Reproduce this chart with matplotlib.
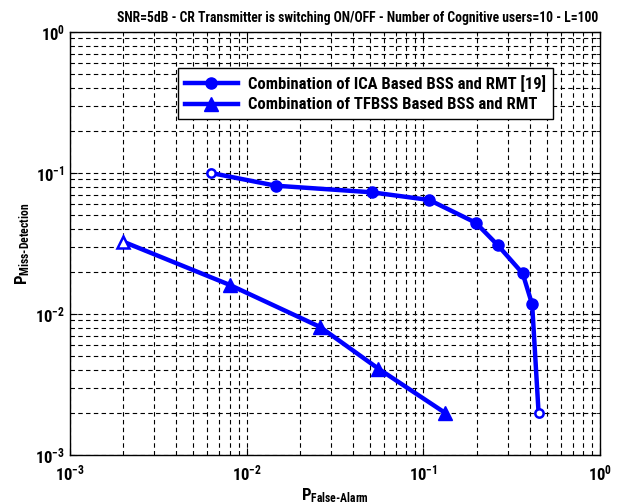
import math
import matplotlib
matplotlib.use("Agg")
import matplotlib.pyplot as plt
from matplotlib import font_manager
from matplotlib.ticker import LogLocator, FuncFormatter, NullFormatter

# pick a condensed sans if one is available
available = {f.name for f in font_manager.fontManager.ttflist}
narrow = next((n for n in ['Liberation Sans Narrow', 'DejaVu Sans Condensed',
                           'Roboto Condensed', 'Open Sans Condensed', 'Liberation Sans']
               if n in available), 'DejaVu Sans')

plt.rcParams['font.family'] = [narrow, 'DejaVu Sans']
plt.rcParams['font.weight'] = 'bold'
plt.rcParams['mathtext.fontset'] = 'custom'
plt.rcParams['mathtext.rm'] = narrow + ':weight=bold'
plt.rcParams['mathtext.bf'] = narrow + ':weight=bold'
plt.rcParams['mathtext.it'] = narrow + ':weight=bold'

# ROC-style curves: false alarm vs miss detection
ica_pfa = [0.0063, 0.0146, 0.0509, 0.108, 0.198, 0.263, 0.365, 0.413, 0.449]
ica_pmd = [0.100, 0.0813, 0.0730, 0.0644, 0.0444, 0.0309, 0.0194, 0.0117, 0.0020]
tf_pfa = [0.0020, 0.0080, 0.0260, 0.0556, 0.132]
tf_pmd = [0.0326, 0.0161, 0.0081, 0.0041, 0.0020]

ica_label = "Combination of ICA Based BSS and RMT [19]"
tf_label = "Combination of TFBSS Based BSS and RMT"
title = "SNR=5dB - CR Transmitter is switching ON/OFF - Number of Cognitive users=10 - L=100"

fig = plt.figure(figsize=(6.25, 5.04), dpi=100)
ax = fig.add_axes([0.112, 0.0972, 0.848, 0.8393])
ax.set_xscale('log')
ax.set_yscale('log')
ax.set_xlim(1e-3, 1)
ax.set_ylim(1e-3, 1)

blue = '#0000ff'
# inner markers filled, end markers open
ax.plot(ica_pfa, ica_pmd, '-', color=blue, lw=3.2, zorder=3)
ax.plot(ica_pfa[1:-1], ica_pmd[1:-1], 'o', color=blue, ms=8, zorder=4)
ax.plot([ica_pfa[0], ica_pfa[-1]], [ica_pmd[0], ica_pmd[-1]], 'o', mfc='white',
        mec=blue, mew=1.8, ms=6, zorder=4)
ax.plot(tf_pfa, tf_pmd, '-', color=blue, lw=3.2, zorder=3)
ax.plot(tf_pfa[1:], tf_pmd[1:], '^', color=blue, ms=10, zorder=4)
ax.plot(tf_pfa[:1], tf_pmd[:1], '^', mfc='white', mec=blue, mew=1.8, ms=9, zorder=4)

# legend handles
h1, = ax.plot([], [], '-o', color=blue, lw=3.2, ms=8, label=ica_label)
h2, = ax.plot([], [], '-^', color=blue, lw=3.2, ms=10, label=tf_label)
leg = ax.legend(handles=[h1, h2], loc='upper left', bbox_to_anchor=(0.204, 0.915),
                fancybox=False, framealpha=1, edgecolor='black', handlelength=3.2,
                prop={'weight': 'bold', 'size': 12}, borderpad=0.4,
                labelspacing=0.35, handletextpad=0.6, borderaxespad=0)
leg.get_frame().set_linewidth(1.0)


def decade_label(v, pos):
    return r'$\mathbf{10^{%d}}$' % round(math.log10(v))


for axis in (ax.xaxis, ax.yaxis):
    axis.set_major_locator(LogLocator(base=10, numticks=10))
    axis.set_minor_locator(LogLocator(base=10, subs=range(2, 10), numticks=10))
    axis.set_minor_formatter(NullFormatter())
    axis.set_major_formatter(FuncFormatter(decade_label))

ax.grid(True, which='both', color='black', linestyle=(0, (4, 3)), linewidth=0.8)
ax.tick_params(which='both', direction='in', top=True, right=True, labelsize=12)
ax.tick_params(which='major', length=5)
ax.tick_params(which='minor', length=3)
ax.tick_params(axis='x', which='major', pad=6)
for s in ax.spines.values():
    s.set_linewidth(1.0)

# shrink the title until it fits the figure width
t = ax.set_title(title, fontsize=11.5, fontweight='bold', pad=7, x=0.543)
fig.canvas.draw()
r = fig.canvas.get_renderer()
w = t.get_window_extent(r).width
t.set_fontsize(11.5 * 483 / w)

ax.set_xlabel(r'$\mathbf{P_{False\text{-}Alarm}}$', fontsize=12, labelpad=2)
ax.set_ylabel(r'$\mathbf{P_{Miss\text{-}Detection}}$', fontsize=12, labelpad=2)

fig.savefig('out.png', dpi=100)
